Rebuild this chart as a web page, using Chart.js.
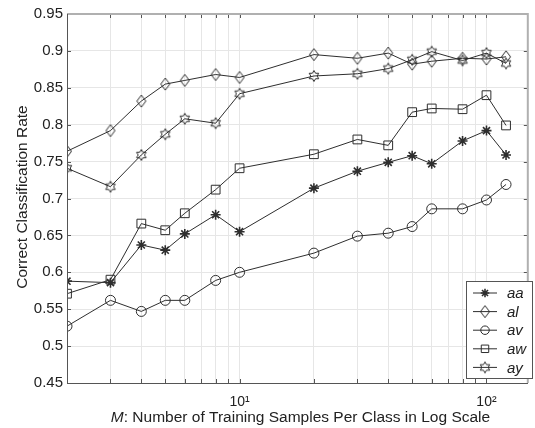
<!DOCTYPE html>
<html>
<head>
<meta charset="utf-8">
<script src="https://cdn.jsdelivr.net/npm/chart.js@4.4.0/dist/chart.umd.min.js"></script>
<style>
  html, body { margin: 0; padding: 0; background: #fff; }
  #wrap { width: 535px; height: 428px; }
</style>
</head>
<body>
<div id="wrap"><canvas id="chart" width="535" height="428"></canvas></div>
<script>
// Training samples per class (log x axis)
const samples = [2, 3, 4, 5, 6, 8, 10, 20, 30, 40, 50, 60, 80, 100, 120];

// Correct classification rate per speaker pair
const aa = [0.588, 0.586, 0.637, 0.630, 0.652, 0.678, 0.655, 0.714, 0.737, 0.749, 0.758, 0.747, 0.778, 0.792, 0.759];
const al = [0.764, 0.792, 0.832, 0.855, 0.860, 0.868, 0.864, 0.895, 0.890, 0.897, 0.882, 0.886, 0.890, 0.889, 0.892];
const av = [0.527, 0.562, 0.547, 0.562, 0.562, 0.589, 0.600, 0.626, 0.649, 0.653, 0.662, 0.686, 0.686, 0.698, 0.719];
const aw = [0.571, 0.590, 0.666, 0.657, 0.680, 0.712, 0.741, 0.760, 0.780, 0.772, 0.817, 0.822, 0.821, 0.840, 0.799];
const ay = [0.741, 0.716, 0.759, 0.787, 0.808, 0.802, 0.842, 0.866, 0.869, 0.876, 0.888, 0.899, 0.887, 0.897, 0.883];

const seriesNames = ['aa', 'al', 'av', 'aw', 'ay'];
const xTickValues = [2, 3, 4, 5, 6, 7, 8, 9, 10, 20, 30, 40, 50, 60, 70, 80, 90, 100];
const xTickLabels = { 10: '10\u00B9', 100: '10\u00B2' };

const LINE = '#2e2e2e';
const FONT = '"Liberation Sans", Arial, sans-serif';

// Marker images for shapes Chart.js does not have
function makeMarker(draw, w, h) {
    const c = document.createElement('canvas');
    c.width = w; c.height = h;
    const g = c.getContext('2d');
    g.strokeStyle = LINE;
    g.lineWidth = 1;
    draw(g, w / 2, h / 2);
    return c;
}

const diamond = makeMarker((g, cx, cy) => {
    g.beginPath();
    g.moveTo(cx, cy - 6);
    g.lineTo(cx + 4.5, cy);
    g.lineTo(cx, cy + 6);
    g.lineTo(cx - 4.5, cy);
    g.closePath();
    g.stroke();
}, 12, 14);

const hexagram = makeMarker((g, cx, cy) => {
    const R = 5.5, r = R / Math.sqrt(3);
    g.beginPath();
    for (let i = 0; i < 12; i++) {
        const a = -Math.PI / 2 + i * Math.PI / 6;
        const rad = i % 2 === 0 ? R : r;
        const px = cx + rad * Math.cos(a), py = cy + rad * Math.sin(a);
        if (i === 0) g.moveTo(px, py); else g.lineTo(px, py);
    }
    g.closePath();
    g.stroke();
}, 14, 14);

const styles = [
    { pointStyle: 'star', radius: 5, borderWidth: 1.6 },
    { pointStyle: diamond, radius: 6, borderWidth: 1 },
    { pointStyle: 'circle', radius: 5, borderWidth: 1 },
    { pointStyle: 'rect', radius: 6.2, borderWidth: 1 },
    { pointStyle: hexagram, radius: 6, borderWidth: 1 },
];

const allSeries = [aa, al, av, aw, ay];
const datasets = allSeries.map((vals, i) => ({
    label: seriesNames[i],
    data: samples.map((x, j) => ({ x: x, y: vals[j] })),
    borderColor: LINE,
    backgroundColor: 'rgba(0,0,0,0)',
    borderWidth: 1,
    pointStyle: styles[i].pointStyle,
    pointRadius: styles[i].radius,
    pointBorderWidth: styles[i].borderWidth,
    pointBorderColor: LINE,
    pointBackgroundColor: 'rgba(0,0,0,0)',
    tension: 0,
}));

// Axis box, inward ticks, titles and legend, drawn MATLAB style
const matlabFrame = {
    id: 'matlabFrame',
    afterDraw(chart) {
        const { ctx, chartArea: a, scales } = chart;
        ctx.save();

        // inward ticks
        ctx.strokeStyle = '#555';
        ctx.lineWidth = 1;
        ctx.beginPath();
        xTickValues.forEach(v => {
            const px = Math.round(scales.x.getPixelForValue(v)) + 0.5;
            ctx.moveTo(px, a.bottom); ctx.lineTo(px, a.bottom - 4);
            ctx.moveTo(px, a.top); ctx.lineTo(px, a.top + 4);
        });
        scales.y.ticks.forEach(t => {
            const py = Math.round(scales.y.getPixelForValue(t.value)) + 0.5;
            ctx.moveTo(a.left, py); ctx.lineTo(a.left + 4, py);
            ctx.moveTo(a.right, py); ctx.lineTo(a.right - 4, py);
        });
        ctx.stroke();

        // box
        ctx.strokeStyle = '#b0b0b0';
        ctx.lineWidth = 2;
        ctx.beginPath();
        ctx.moveTo(a.left, a.top); ctx.lineTo(a.right, a.top); ctx.lineTo(a.right, a.bottom);
        ctx.stroke();
        ctx.strokeStyle = '#555';
        ctx.lineWidth = 1;
        ctx.beginPath();
        ctx.moveTo(a.left + 0.5, a.top); ctx.lineTo(a.left + 0.5, a.bottom + 0.5); ctx.lineTo(a.right, a.bottom + 0.5);
        ctx.stroke();

        // axis titles
        ctx.fillStyle = '#222';
        ctx.textBaseline = 'alphabetic';
        ctx.save();
        ctx.translate(27, 197);
        ctx.rotate(-Math.PI / 2);
        ctx.textAlign = 'center';
        ctx.font = '15.5px ' + FONT;
        ctx.fillText('Correct Classification Rate', 0, 0);
        ctx.restore();

        const partA = 'M', partB = ': Number of Training Samples Per Class in Log Scale';
        ctx.font = 'italic 15.5px ' + FONT;
        const wA = ctx.measureText(partA).width;
        ctx.font = '15.5px ' + FONT;
        const wB = ctx.measureText(partB).width;
        let sx = 300.5 - (wA + wB) / 2;
        ctx.textAlign = 'left';
        ctx.font = 'italic 15.5px ' + FONT;
        ctx.fillText(partA, sx, 422);
        ctx.font = '15.5px ' + FONT;
        ctx.fillText(partB, sx + wA, 422);

        // legend
        const lx = 466, ly = 281, lw = 66, lh = 97;
        ctx.fillStyle = '#fff';
        ctx.fillRect(lx, ly, lw, lh);
        ctx.strokeStyle = '#555';
        ctx.lineWidth = 1;
        ctx.strokeRect(lx + 0.5, ly + 0.5, lw, lh);
        seriesNames.forEach((name, i) => {
            const cy = 293 + i * 18.6;
            ctx.strokeStyle = LINE;
            ctx.lineWidth = 1;
            ctx.beginPath();
            ctx.moveTo(473, cy); ctx.lineTo(497, cy);
            ctx.stroke();
            const st = styles[i];
            if (st.pointStyle instanceof HTMLCanvasElement) {
                const img = st.pointStyle;
                ctx.drawImage(img, 485 - img.width / 2, cy - img.height / 2);
            } else if (Chart.helpers && Chart.helpers.drawPoint) {
                ctx.lineWidth = st.borderWidth;
                ctx.fillStyle = 'rgba(0,0,0,0)';
                Chart.helpers.drawPoint(ctx, {
                    pointStyle: st.pointStyle, radius: st.radius * 0.85,
                    rotation: 0, borderWidth: st.borderWidth
                }, 485, cy);
            }
            ctx.fillStyle = '#222';
            ctx.font = 'italic 15px ' + FONT;
            ctx.textAlign = 'left';
            ctx.textBaseline = 'middle';
            ctx.fillText(name, 507, cy + 1);
        });
        ctx.restore();
    }
};

new Chart(document.getElementById('chart'), {
    type: 'line',
    data: { datasets: datasets },
    options: {
        responsive: false,
        animation: false,
        layout: { padding: { top: 14, right: 1, left: 0, bottom: 0 } },
        plugins: { legend: { display: false }, tooltip: { enabled: false } },
        scales: {
            x: {
                type: 'logarithmic',
                min: 2,
                max: 147,
                afterBuildTicks: scale => {
                    scale.ticks = xTickValues.map(v => ({ value: v }));
                },
                afterFit: scale => { scale.height = 45; },
                grid: { color: '#e6e6e6', drawTicks: false },
                border: { display: false },
                ticks: {
                    autoSkip: false,
                    maxRotation: 0,
                    padding: 11,
                    color: '#222',
                    font: { family: FONT, size: 14 },
                    callback: v => xTickLabels[v] || ''
                }
            },
            y: {
                min: 0.45,
                max: 0.95,
                afterFit: scale => { scale.width = 67; },
                grid: { color: '#e6e6e6', drawTicks: false },
                border: { display: false },
                ticks: {
                    stepSize: 0.05,
                    padding: 4,
                    color: '#222',
                    font: { family: FONT, size: 15 },
                    callback: v => String(parseFloat(v.toFixed(2)))
                }
            }
        }
    },
    plugins: [matlabFrame]
});
</script>
</body>
</html>
